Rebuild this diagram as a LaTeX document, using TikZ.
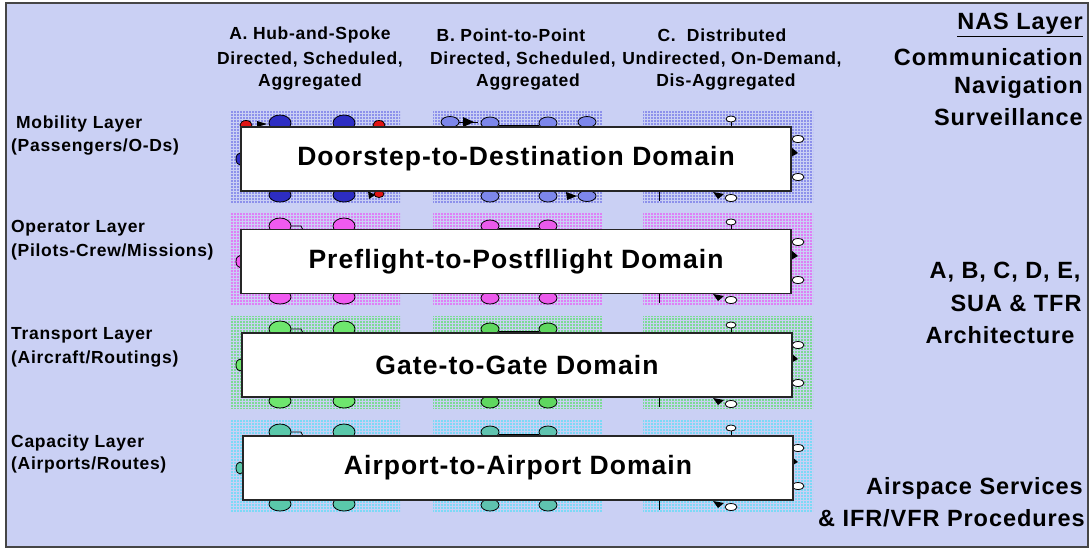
\documentclass[tikz,border=0pt]{standalone}
\usepackage{fontspec}
\setmainfont{Liberation Sans}[LetterSpace=4]
\usetikzlibrary{patterns}
\pgfdeclarepatternformonly{griddots}{\pgfqpoint{0pt}{0pt}}{\pgfqpoint{3pt}{3pt}}{\pgfqpoint{3pt}{3pt}}{%
  \pgfpathrectangle{\pgfqpoint{0.4pt}{0.4pt}}{\pgfqpoint{1.7pt}{1.7pt}}\pgfusepath{fill}}
\definecolor{bgcol}{RGB}{202,208,244}
\definecolor{framecol}{RGB}{70,70,70}
\definecolor{dotA}{RGB}{60,60,225}
\definecolor{nodeA}{RGB}{45,45,195}
\definecolor{liteA}{RGB}{125,135,235}
\definecolor{dotB}{RGB}{250,20,250}
\definecolor{nodeB}{RGB}{240,90,240}
\definecolor{liteB}{RGB}{235,90,235}
\definecolor{dotC}{RGB}{20,235,20}
\definecolor{nodeC}{RGB}{110,230,110}
\definecolor{liteC}{RGB}{95,215,95}
\definecolor{dotD}{RGB}{20,230,250}
\definecolor{nodeD}{RGB}{90,200,170}
\definecolor{liteD}{RGB}{95,195,175}
\definecolor{redN}{RGB}{225,20,20}
\tikzset{
  hdr/.style={font=\bfseries\fontsize{17.5}{21}\selectfont, inner sep=0pt},
  lbl/.style={font=\bfseries\fontsize{17.5}{21}\selectfont, anchor=west, inner sep=0pt},
  rtx/.style={font=\bfseries\fontsize{23.5}{28}\selectfont, inner sep=0pt},
  dombox/.style={draw=black!85, line width=1.5pt, fill=white, minimum width=550pt,
    minimum height=64pt, inner sep=0pt, font=\bfseries\fontsize{26.5}{32}\selectfont},
  gnode/.style={draw=black, line width=0.8pt},
  tip/.style={fill=black}
}
\newcommand{\layerrow}[5]{%
  \foreach \xa/\xb in {230/400,433/602,643/813}
    \fill[pattern=griddots, pattern color=#3] (\xa,{#1-17}) rectangle (\xb,{#2+11});
  % A: hub-and-spoke
  \filldraw[gnode, fill=#4] (280,{#1-4}) ellipse [x radius=11, y radius=8];
  \filldraw[gnode, fill=#4] (344,{#1-4}) ellipse [x radius=11, y radius=8];
  \filldraw[gnode, fill=#4] (280,{#2+4}) ellipse [x radius=11, y radius=7];
  \filldraw[gnode, fill=#4] (344,{#2+4}) ellipse [x radius=11, y radius=7];
  \filldraw[gnode, fill=#4] (240,{(#1+#2)/2}) ellipse [x radius=4, y radius=6];
  % B: point-to-point
  \filldraw[gnode, fill=#5] (490,{#1-4}) ellipse [x radius=9, y radius=6];
  \filldraw[gnode, fill=#5] (548,{#1-4}) ellipse [x radius=9, y radius=6];
  \draw[line width=1pt] (499,{#1-2}) -- (539,{#1-2});
  \filldraw[gnode, fill=#5] (490,{#2+5}) ellipse [x radius=9, y radius=6];
  \filldraw[gnode, fill=#5] (548,{#2+5}) ellipse [x radius=9, y radius=6];
  % C: distributed
  \draw[line width=0.8pt] (731,{#1-5}) -- (731,#1);
  \filldraw[gnode, fill=white] (731,{#1-8}) ellipse [x radius=5, y radius=3];
  \filldraw[gnode, fill=white] (798,{#1+12}) ellipse [x radius=6, y radius=3.5];
  \filldraw[gnode, fill=white] (798,{#1+50}) ellipse [x radius=6, y radius=3.5];
  \fill[tip] (791,{#1+20}) -- (798,{#1+26}) -- (791,{#1+30}) -- cycle;
  \draw[line width=0.8pt] (659,#2) -- (659,{#2+10});
  \fill[tip] (713,{#2+1}) -- (724,{#2+3}) -- (718,{#2+8}) -- cycle;
  \filldraw[gnode, fill=white] (731,{#2+7}) ellipse [x radius=6, y radius=3.5];
}
\begin{document}
\begin{tikzpicture}[x=1pt,y=-1pt]
\useasboundingbox (0,0) rectangle (1091,550);
\fill[white] (0,0) rectangle (1091,550);
\filldraw[fill=bgcol, draw=framecol, line width=1.5pt] (6,3) rectangle (1088,547);

% column headers
\node[hdr] (ha1) at (310,35) {A. Hub-and-Spoke};
\node[hdr] (ha2) at (310,60) {Directed, Scheduled,};
\node[hdr] (ha3) at (310,82) {Aggregated};
\node[hdr] (hb1) at (511,35) {B. Point-to-Point};
\node[hdr] (hb2) at (523,60) {Directed, Scheduled,};
\node[hdr] (hb3) at (528,82) {Aggregated};
\node[hdr] (hc1) at (722,35) {C.\ \ Distributed};
\node[hdr] (hc2) at (732,60) {Undirected, On-Demand,};
\node[hdr] (hc3) at (726,82) {Dis-Aggregated};

% left labels
\node[lbl] (l1a) at (16,124) {Mobility Layer};
\node[lbl] (l1b) at (11,147) {(Passengers/O-Ds)};
\node[lbl] (l2a) at (11,228) {Operator Layer};
\node[lbl] (l2b) at (11,252) {(Pilots-Crew/Missions)};
\node[lbl] (l3a) at (11,335) {Transport Layer};
\node[lbl] (l3b) at (11,359) {(Aircraft/Routings)};
\node[lbl] (l4a) at (11,443) {Capacity Layer};
\node[lbl] (l4b) at (11,465) {(Airports/Routes)};

% right texts
\node[rtx, anchor=east] (r1) at (1083,25) {\underline{NAS Layer}};
\node[rtx, anchor=east] (r2) at (1083,57) {Communication};
\node[rtx, anchor=east] (r3) at (1083,87) {Navigation};
\node[rtx, anchor=east] (r4) at (1083,117) {Surveillance};
\node[rtx] (r5) at (1005,272) {A, B, C, D, E,};
\node[rtx] (r6) at (1016,303) {SUA \& TFR};
\node[rtx] (r7) at (1000,335) {Architecture};
\node[rtx, anchor=east] (r8) at (1083,488) {Airspace Services};
\node[rtx, anchor=east] (r9) at (1085,518) {\& IFR/VFR Procedures};

% row 1: mobility
\layerrow{127}{191}{dotA}{nodeA}{liteA}
\filldraw[gnode, fill=redN] (246,125) ellipse [x radius=6, y radius=4.5];
\filldraw[gnode, fill=redN] (379,125) ellipse [x radius=6, y radius=4.5];
\filldraw[gnode, fill=redN] (379,194) ellipse [x radius=5, y radius=3.5];
\fill[tip] (257,121) -- (267,124) -- (257,127) -- cycle;
\fill[tip] (368,191) -- (375,195) -- (369,199) -- cycle;
\filldraw[gnode, fill=liteA] (450,122) ellipse [x radius=9, y radius=5.5];
\filldraw[gnode, fill=liteA] (587,122) ellipse [x radius=9, y radius=5.5];
\draw[line width=1pt] (459,122) -- (478,122);
\fill[tip] (463,117) -- (474,122) -- (463,127) -- cycle;
\filldraw[gnode, fill=liteA] (587,196) ellipse [x radius=9, y radius=5.5];
\fill[tip] (566,192) -- (577,196) -- (567,200) -- cycle;
\node[dombox] (d1) at (516,159) {Doorstep-to-Destination Domain};

% row 2: operator
\layerrow{230}{293}{dotB}{nodeB}{liteB}
\draw[line width=0.8pt] (291,226) -- (301,226) -- (303,230);
\node[dombox] (d2) at (516,261.5) {Preflight-to-Postfllight Domain};

% row 3: transport
\layerrow{333}{397}{dotC}{nodeC}{liteC}
\draw[line width=0.8pt] (291,329) -- (301,329) -- (303,333);
\node[dombox] (d3) at (517,365) {Gate-to-Gate Domain};

% row 4: capacity
\layerrow{436}{500}{dotD}{nodeD}{liteD}
\draw[line width=0.8pt] (291,432) -- (301,432) -- (303,436);
\node[dombox] (d4) at (518,468) {Airport-to-Airport Domain};
\end{tikzpicture}
\end{document}
